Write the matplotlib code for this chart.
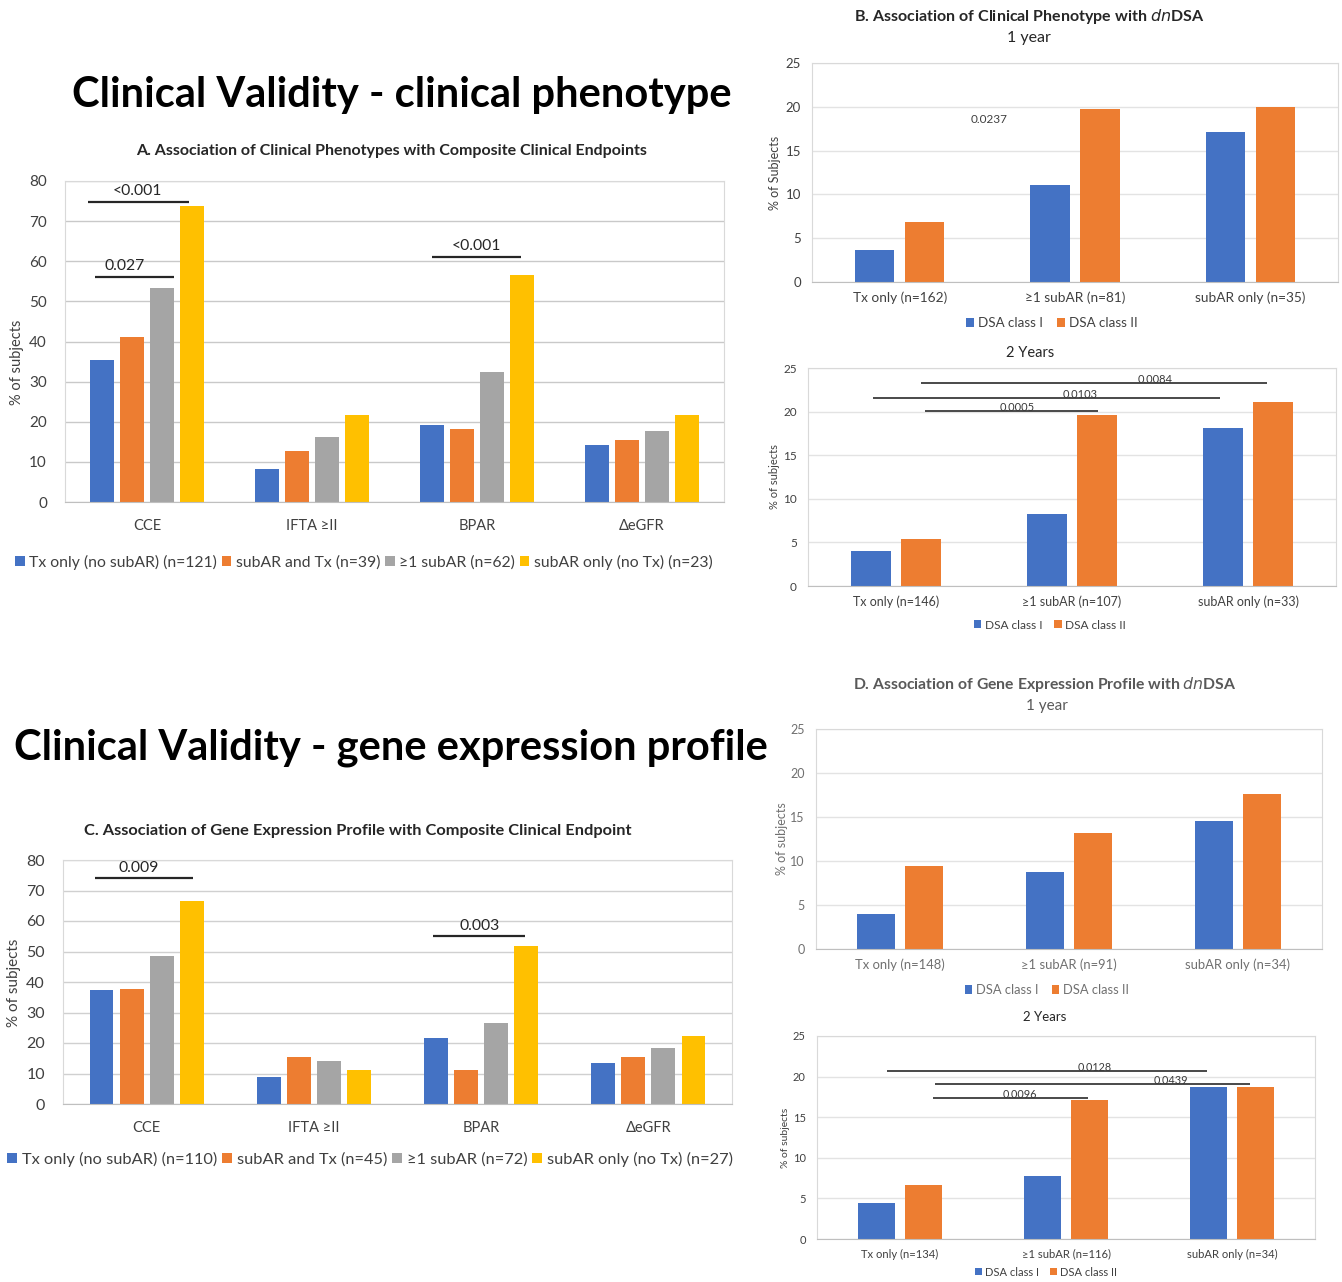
import matplotlib
matplotlib.use("Agg")
import matplotlib.pyplot as plt
import numpy as np

plt.rcParams['font.family'] = ['Lato', 'DejaVu Sans']

W, H = 1342, 1282
fig = plt.figure(figsize=(W/100, H/100), dpi=100)
fig.patch.set_facecolor('white')

BLUE, ORANGE, GRAY, YELLOW = '#4472C4', '#ED7D31', '#A5A5A5', '#FFC000'

# ---------------- data ----------------
endpoints = ['CCE', 'IFTA ≥II', 'BPAR', 'ΔeGFR']

a_series = ['Tx only (no subAR) (n=121)', 'subAR and Tx (n=39)',
            '≥1 subAR (n=62)', 'subAR only (no Tx) (n=23)']
a_tx_only = [35.5, 8.2, 19.1, 14.2]
a_subar_tx = [41.0, 12.8, 18.1, 15.5]
a_ge1 = [53.3, 16.2, 32.3, 17.8]
a_subar_only = [73.8, 21.6, 56.6, 21.6]

c_series = ['Tx only (no subAR) (n=110)', 'subAR and Tx (n=45)',
            '≥1 subAR (n=72)', 'subAR only (no Tx) (n=27)']
c_tx_only = [37.3, 9.0, 21.6, 13.6]
c_subar_tx = [37.8, 15.5, 11.0, 15.5]
c_ge1 = [48.6, 14.0, 26.4, 18.2]
c_subar_only = [66.6, 11.0, 51.8, 22.2]

dsa_series = ['DSA class I', 'DSA class II']

b1_groups = ['Tx only (n=162)', '≥1 subAR (n=81)', 'subAR only (n=35)']
b1_class1 = [3.7, 11.1, 17.1]
b1_class2 = [6.8, 19.7, 20.0]

b2_groups = ['Tx only (n=146)', '≥1 subAR (n=107)', 'subAR only (n=33)']
b2_class1 = [4.0, 8.3, 18.1]
b2_class2 = [5.4, 19.6, 21.1]

d1_groups = ['Tx only (n=148)', '≥1 subAR (n=91)', 'subAR only (n=34)']
d1_class1 = [4.0, 8.8, 14.6]
d1_class2 = [9.4, 13.2, 17.6]

d2_groups = ['Tx only (n=134)', '≥1 subAR (n=116)', 'subAR only (n=34)']
d2_class1 = [4.4, 7.7, 18.7]
d2_class2 = [6.6, 17.1, 18.7]

# p-value annotations: (x_start, x_end, y, label, text_x)
a_pvals = [(-0.36, 0.25, 74.8, '<0.001', -0.06),
           (-0.32, 0.16, 56.1, '0.027', -0.14),
           (1.73, 2.27, 61.1, '<0.001', 2.0)]
c_pvals = [(-0.31, 0.28, 74.1, '0.009', -0.05),
           (1.71, 2.26, 55.1, '0.003', 1.99)]
b1_note = (0.51, 18.6, '0.0237')
b2_pvals = [(0.14, 2.11, 23.3, '0.0084', 1.47),
            (-0.13, 1.84, 21.6, '0.0103', 1.045),
            (0.165, 1.15, 20.1, '0.0005', 0.69)]
d2_pvals = [(-0.08, 1.85, 20.7, '0.0128', 1.17),
            (0.21, 2.11, 19.1, '0.0439', 1.63),
            (0.20, 1.13, 17.4, '0.0096', 0.72)]


def ax_px(l, t, r, b):
    return fig.add_axes([l/W, 1 - b/H, (r - l)/W, (b - t)/H])


def style(ax, ymax, step, gridc, tickfs, tickc, catfs, ypad=8, xpad=9):
    ax.set_ylim(0, ymax)
    ax.set_yticks(np.arange(0, ymax + 0.1, step))
    ax.yaxis.grid(True, color=gridc, lw=1.0)
    ax.set_axisbelow(True)
    for s in ax.spines.values():
        s.set_color('#D9D9D9')
        s.set_linewidth(0.8)
    ax.spines['bottom'].set_color('#BFBFBF')
    ax.tick_params(axis='both', length=0, colors=tickc)
    ax.tick_params(axis='y', labelsize=tickfs, pad=ypad)
    ax.tick_params(axis='x', labelsize=catfs, pad=xpad)


# ---------------- big titles ----------------
fig.text(402/W, 1 - 95/H, 'Clinical Validity - clinical phenotype', ha='center', va='center',
         fontsize=30, fontweight='bold', color='black')
fig.text(391/W, 1 - 748/H, 'Clinical Validity - gene expression profile', ha='center', va='center',
         fontsize=30, fontweight='bold', color='black')


def four_panel(ax, vals, names, step_u, width_u, pvals, ptext_fs):
    x = np.arange(len(endpoints))
    cols = [BLUE, ORANGE, GRAY, YELLOW]
    offs = (np.arange(4) - 1.5) * step_u
    handles = []
    for v, n, c, o in zip(vals, names, cols, offs):
        h = ax.bar(x + o, v, width_u, color=c, label=n)
        handles.append(h)
    ax.set_xlim(-0.5, 3.5)
    ax.set_xticks(x)
    ax.set_xticklabels(endpoints)
    for x0, x1, y, lab, tx in pvals:
        ax.plot([x0, x1], [y, y], color='#262626', lw=1.6, solid_capstyle='butt')
        ax.text(tx, y + 0.9, lab, ha='center', va='bottom', fontsize=ptext_fs, color='#262626')
    return handles


# ---------------- Panel A ----------------
axA = ax_px(65, 181, 724, 502)
hA = four_panel(axA, [a_tx_only, a_subar_tx, a_ge1, a_subar_only], a_series,
                0.182, 0.146, a_pvals, 11.3)
style(axA, 80, 10, '#C9C9C9', 11, '#404040', 10.5, ypad=13, xpad=12)
axA.set_ylabel('% of subjects', fontsize=10.5, color='#404040')
axA.yaxis.set_label_coords(-0.062, 0.436)
fig.text(392/W, 1 - 151/H, 'A. Association of Clinical Phenotypes with Composite Clinical Endpoints',
         ha='center', va='center', fontsize=11.5, fontweight='bold', color='#262626')
fig.legend(handles=hA, labels=a_series, loc='center', bbox_to_anchor=(364/W, 1 - 562/H),
           ncol=4, frameon=False, fontsize=11.3, handlelength=0.6, handleheight=0.6,
           handletextpad=0.3, columnspacing=0.3, labelcolor='#404040')

# ---------------- Panel C ----------------
axC = ax_px(63, 860, 732, 1104)
hC = four_panel(axC, [c_tx_only, c_subar_tx, c_ge1, c_subar_only], c_series,
                0.18, 0.143, c_pvals, 11.3)
style(axC, 80, 10, '#D0D0D0', 11.5, '#404040', 10.5, ypad=13, xpad=12)
axC.set_ylabel('% of subjects', fontsize=11, color='#404040')
axC.yaxis.set_label_coords(-0.063, 0.496)
fig.text(358/W, 1 - 831/H, 'C. Association of Gene Expression Profile with Composite Clinical Endpoint',
         ha='center', va='center', fontsize=11.8, fontweight='bold', color='#262626')
fig.legend(handles=hC, labels=c_series, loc='center', bbox_to_anchor=(370/W, 1 - 1159/H),
           ncol=4, frameon=False, fontsize=11.8, handlelength=0.6, handleheight=0.6,
           handletextpad=0.3, columnspacing=0.3, labelcolor='#404040')


# ---------------- DSA panels ----------------
def dsa_panel(box, groups, c1, c2, tickfs, catfs, ylabel, ylfs, legy, legx, legfs, pvals, pfs, tickc, ylpad):
    ax = ax_px(*box)
    x = np.arange(len(groups))
    h1 = ax.bar(x - 0.143, c1, 0.225, color=BLUE, label=dsa_series[0])
    h2 = ax.bar(x + 0.143, c2, 0.225, color=ORANGE, label=dsa_series[1])
    ax.set_xlim(-0.5, 2.5)
    ax.set_xticks(x)
    ax.set_xticklabels(groups)
    style(ax, 25, 5, '#E3E3E3', tickfs, tickc, catfs)
    ax.tick_params(axis='x', pad=7)
    ax.set_ylabel(ylabel, fontsize=ylfs, color=tickc, labelpad=ylpad)
    for x0, x1, y, lab, tx in pvals:
        ax.plot([x0, x1], [y, y], color='#3A3A3A', lw=1.3, solid_capstyle='butt')
        ax.text(tx, y - 0.3, lab, ha='center', va='bottom', fontsize=pfs, color='#3A3A3A')
    ax.legend(handles=[h1, h2], loc='center', bbox_to_anchor=(legx/W, 1 - legy/H),
              bbox_transform=fig.transFigure, ncol=2, frameon=False, fontsize=legfs,
              handlelength=0.6, handleheight=0.6, handletextpad=0.3, columnspacing=1.0,
              labelcolor=tickc)
    return ax


axB1 = dsa_panel((812, 63, 1338, 282), b1_groups, b1_class1, b1_class2, 9.5, 9.8,
                 '% of Subjects', 9, 323, 1052, 9.6, [], 7, '#404040', 3)
axB1.text(b1_note[0], b1_note[1], b1_note[2], ha='center', va='center', fontsize=8.5, color='#404040')
fig.text(1029/W, 1 - 17/H, 'B. Association of Clinical Phenotype with $\\it{dn}$DSA',
         ha='center', va='center', fontsize=11.5, fontweight='bold', color='#262626')
fig.text(1029/W, 1 - 38/H, '1 year', ha='center', va='center', fontsize=11.5, color='#262626')

axB2 = dsa_panel((808, 368, 1336, 586), b2_groups, b2_class1, b2_class2, 8.5, 9.0,
                 '% of subjects', 8, 625, 1050, 8.6, b2_pvals, 8, '#404040', 2)
fig.text(1030/W, 1 - 353/H, '2 Years', ha='center', va='center', fontsize=10.5, color='#262626')

axD1 = dsa_panel((816, 729, 1322, 949), d1_groups, d1_class1, d1_class2, 9, 9.4,
                 '% of subjects', 9, 990, 1047, 9.3, [], 7, '#707070', 2)
fig.text(1045/W, 1 - 685/H, 'D. Association of Gene Expression Profile with $\\it{dn}$DSA',
         ha='center', va='center', fontsize=11.3, fontweight='bold', color='#595959')
fig.text(1047/W, 1 - 706/H, '1 year', ha='center', va='center', fontsize=11, color='#595959')

axD2 = dsa_panel((817, 1036, 1315, 1239), d2_groups, d2_class1, d2_class2, 8, 8.1,
                 '% of subjects', 7.5, 1272, 1046, 8, d2_pvals, 7.8, '#404040', 2)
fig.text(1045/W, 1 - 1017/H, '2 Years', ha='center', va='center', fontsize=9.5, color='#262626')

fig.savefig('out.png', dpi=100, facecolor='white')
